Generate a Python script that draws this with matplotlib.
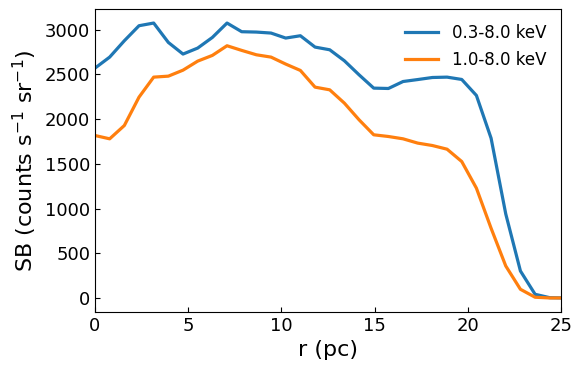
import matplotlib
matplotlib.use("Agg")
import matplotlib.pyplot as plt

step = 0.787
r_pc = [round(i * step, 3) for i in range(33)]
sb_03_80 = [2571, 2694, 2877, 3045, 3075, 2858, 2728, 2795, 2914, 3075, 2978,
            2974, 2963, 2907, 2933, 2806, 2776, 2653, 2496, 2347, 2343, 2421,
            2443, 2466, 2470, 2444, 2265, 1787, 940, 302, 41, 3, 0]
sb_10_80 = [1817, 1780, 1929, 2246, 2470, 2481, 2548, 2649, 2713, 2821, 2769,
            2720, 2694, 2616, 2545, 2358, 2328, 2179, 1993, 1825, 1806, 1780,
            1732, 1705, 1664, 1526, 1228, 780, 358, 97, 8, 0, 0]
labels = ["0.3-8.0 keV", "1.0-8.0 keV"]

fig = plt.figure(figsize=(5.83, 3.73), dpi=100)
ax = fig.add_axes([95 / 583, 1 - 311.7 / 373, 466 / 583, (311.7 - 9.3) / 373])
ax.plot(r_pc, sb_03_80, color="#1f77b4", lw=2.3, label=labels[0])
ax.plot(r_pc, sb_10_80, color="#ff7f0e", lw=2.3, label=labels[1])
ax.set_xlim(0, 25)
ax.set_xticks([0, 5, 10, 15, 20, 25])
ax.set_yticks([0, 500, 1000, 1500, 2000, 2500, 3000])
ax.tick_params(direction="in", labelsize=13)
ax.set_xlabel("r (pc)", fontsize=16)
ax.set_ylabel(r"SB (counts s$^{-1}$ sr$^{-1}$)", fontsize=16)
ax.legend(loc="upper right", frameon=False, fontsize=12)
fig.savefig("out.png", dpi=100)
